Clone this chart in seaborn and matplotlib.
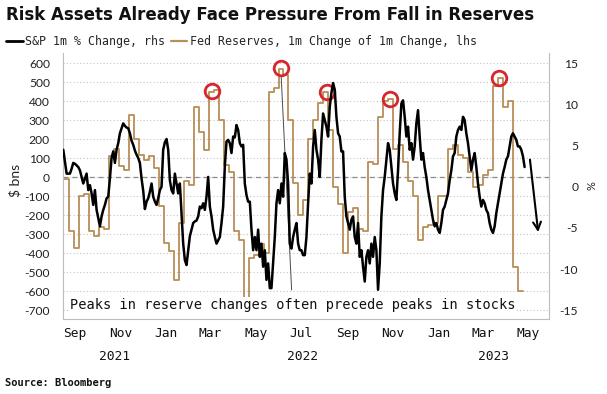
import matplotlib
matplotlib.use("Agg")
import matplotlib.pyplot as plt
import matplotlib.dates as mdates
import matplotlib.transforms as mtransforms
from matplotlib.lines import Line2D
import pandas as pd
import seaborn as sns

# ---------------- data ----------------
TITLE = "Risk Assets Already Face Pressure From Fall in Reserves"
SP_LABEL = "S&P 1m % Change, rhs"
FED_LABEL = "Fed Reserves, 1m Change of 1m Change, lhs"
NOTE = "Peaks in reserve changes often precede peaks in stocks"
SOURCE = "Source: Bloomberg"
LEFT_LABEL = "$ bns"
RIGHT_LABEL = "%"

# Fed reserves, 1m change of 1m change ($ bn), left axis
FED_START = "2021-08-17 19:00"
FED_STEP = "160h"
FED_VALUES = [
    -10, -285, -370, -100, -90, -280, -310, -260, -270, 110,
    150, 60, 40, 330, 200, 120, 90, 110, 50, -150,
    -345, -390, -540, -240, -20, -40, 370, 240, 145, 450,
    460, 300, 65, 30, -280, -330, -640, -425, -410, -350,
    -400, 450, 470, 570, 540, 300, -30, -200, -120, 200,
    300, 390, 450, 250, -50, -140, -400, -180, -160, -270,
    -280, 80, 70, 320, 400, 410, 150, 170, 80, -20,
    -100, -330, -260, -250, -240, -100, -100, 150, 170, 120,
    100, 30, -50, -40, 10, 40, 480, 520, 370, 400,
    -470, -600, -600,
]

# S&P 500 1m % change, right axis
SP_START = "2021-08-16 09:00"
SP_STEP = "3210min"
SP_VALUES = [
    4.5, 3.0, 1.6, 1.6, 1.6, 2.2, 2.9, 2.8, 2.6, 2.4,
    2.0, 1.2, 0.4, 1.0, 1.6, -0.4, 0.2, -0.8, -2.2, -0.4,
    -2.8, -3.8, -4.8, -3.6, -2.8, -2.2, -1.4, -1.2, 1.0, 3.5,
    4.3, 2.9, 4.5, 5.3, 6.5, 7.1, 7.7, 7.4, 7.2, 7.1,
    6.5, 5.6, 5.1, 4.4, 3.9, 3.5, 2.9, 1.0, -0.5, -2.7,
    -1.8, -1.4, -0.6, 0.4, -1.2, -1.8, -2.2, -1.4, -0.4, 0.0,
    4.5, 5.4, 5.8, 4.5, 0.8, -0.4, -0.8, 1.6, 0.4, -0.8,
    0.4, -3.2, -6.9, -8.9, -9.5, -7.7, -6.0, -5.2, -4.4, -4.2,
    -4.1, -3.6, -2.4, -2.6, -2.0, -2.8, -1.2, 1.2, -2.4, -3.6,
    -5.2, -6.1, -6.9, -6.5, -6.1, -4.4, -2.4, 2.5, 5.5, 5.7,
    5.3, 4.1, 6.1, 6.0, 7.5, 6.9, 5.3, 4.9, 5.1, 0.4,
    -1.0, -1.8, -1.8, -5.2, -7.7, -6.1, -7.7, -5.2, -8.5, -6.9,
    -9.7, -7.7, -11.3, -9.3, -12.3, -12.3, -9.3, -6.1, -2.0, -0.4,
    -2.0, 0.4, -1.2, 4.1, 3.3, 0.4, -6.9, -7.5, -6.1, -5.2,
    -4.4, -6.9, -7.7, -7.7, -8.3, -8.3, -6.1, -2.0, 1.6, 0.4,
    4.9, 6.9, 4.5, 3.3, 1.2, 5.7, 8.9, 8.1, 7.3, 6.1,
    9.7, 11.4, 12.6, 11.8, 8.5, 6.5, 6.1, 4.3, 4.3, -1.2,
    -3.6, -4.4, -5.2, -4.0, -3.6, -6.1, -6.9, -4.4, -8.5, -7.7,
    -9.7, -11.5, -8.5, -7.7, -9.3, -6.9, -8.5, -6.1, -7.7, -12.5,
    -9.3, -3.6, -0.4, 1.2, 3.3, 5.3, 4.5, 2.4, 0.4, -0.8,
    -1.6, 2.0, 6.5, 10.1, 10.5, 8.5, 6.1, 7.3, 4.5, 5.3,
    3.3, 4.9, 7.7, 9.3, 6.1, 3.3, 4.1, 2.4, 1.2, -0.4,
    -1.6, -2.8, -4.0, -4.8, -4.4, -5.2, -5.6, -4.4, -2.8, -2.4,
    -1.6, -0.8, 0.8, 2.0, 3.7, 4.1, 6.1, 6.9, 7.3, 6.9,
    8.5, 8.1, 6.5, 5.3, 3.7, 2.0, 3.3, 4.1, 2.4, 0.4,
    -1.2, -2.4, -1.6, -2.0, -2.8, -3.2, -4.4, -5.2, -5.6, -4.8,
    -3.2, -2.0, -0.8, 0.4, 1.6, 2.4, 3.3, 3.7, 4.9, 6.1,
    6.5, 6.1, 5.7, 4.9, 4.9, 4.5, 3.7, 2.4,
]

# circled reserve peaks (left axis units)
PEAK_DATES = ["2022-03-03", "2022-06-04", "2022-08-04", "2022-10-28", "2023-03-23"]
PEAK_VALUES = [456, 575, 450, 412, 521]

# thin guide line (left axis units)
GUIDE_DATES = ["2022-06-04", "2022-06-18"]
GUIDE_VALUES = [533, -593]

# arrow (right axis units)
ARROW_DATES = ["2023-05-03", "2023-05-14"]
ARROW_VALUES = [3.3, -5.5]

XLIM = ["2021-08-16", "2023-05-28 12:00"]
YEAR_LABELS = ["2021", "2022", "2023"]
YEAR_DATES = ["2021-10-24", "2022-07-02", "2023-03-15"]
LEFT_TICKS = list(range(-700, 601, 100))
RIGHT_TICKS = list(range(-15, 16, 5))
LEFT_LIM = (-743, 652.6)
RIGHT_LIM = (-15.99, 16.21)

# ---------------- style ----------------
GOLD = "#b98e58"
RED = "#d7262e"
AXC = "#bdbdbd"
MONO = "DejaVu Sans Mono"

sns.set_style("white")
plt.rcParams["font.family"] = ["Lato", "DejaVu Sans"]
plt.rcParams["axes.unicode_minus"] = False

fed_df = pd.DataFrame({"date": pd.date_range(FED_START, periods=len(FED_VALUES), freq=FED_STEP),
                       "value": FED_VALUES})
sp_df = pd.DataFrame({"date": pd.date_range(SP_START, periods=len(SP_VALUES), freq=SP_STEP),
                      "value": SP_VALUES})

W, H = 607, 394
fig = plt.figure(figsize=(W / 100, H / 100), dpi=100)
L, R, T, B = 63, 549, 53.3, 318.5
ax = fig.add_axes([L / W, 1 - B / H, (R - L) / W, (B - T) / H])
ax2 = ax.twinx()

# grid & zero line
ax.set_ylim(*LEFT_LIM)
ax.set_yticks(LEFT_TICKS)
ax.set_yticklabels([str(v) for v in LEFT_TICKS])
ax.grid(axis="y", linestyle=(0, (1, 2)), color="#c4c4c4", linewidth=0.8)
ax.grid(axis="x", visible=False)
ax.axhline(0, linestyle=(0, (4, 3)), color="#8c8c8c", linewidth=0.9, zorder=1)

# series
sns.lineplot(data=fed_df, x="date", y="value", ax=ax, color=GOLD, linewidth=1.3,
             drawstyle="steps-post", estimator=None, legend=False, zorder=2)
ax.plot(pd.to_datetime(GUIDE_DATES), GUIDE_VALUES, color="#4a4a4a", linewidth=0.7, zorder=3)
ax.plot(pd.to_datetime(PEAK_DATES), PEAK_VALUES, linestyle="none", marker="o", markersize=10.5,
        markerfacecolor="none", markeredgecolor=RED, markeredgewidth=2.0, zorder=4)

sns.lineplot(data=sp_df, x="date", y="value", ax=ax2, color="black", linewidth=1.8,
             estimator=None, legend=False)
ax2.set_ylim(*RIGHT_LIM)
ax2.set_yticks(RIGHT_TICKS)
ax2.set_yticklabels([str(v) for v in RIGHT_TICKS])

ad = mdates.date2num(pd.to_datetime(ARROW_DATES))
ax2.annotate("", xy=(ad[1], ARROW_VALUES[1]), xytext=(ad[0], ARROW_VALUES[0]),
             arrowprops=dict(arrowstyle="->", color="black", lw=1.5, mutation_scale=14,
                             shrinkA=0, shrinkB=0))

ax2.text((70 - L) / (R - L), (B - 305) / (B - T), NOTE, transform=ax2.transAxes,
         ha="left", va="center", fontsize=9.8, family=MONO, color="#111111",
         bbox=dict(facecolor="white", edgecolor="none", pad=1.0), zorder=10)

# x axis
ax.set_xlim(pd.Timestamp(XLIM[0]), pd.Timestamp(XLIM[1]))
ax.xaxis.set_major_locator(mdates.MonthLocator(bymonth=[1, 3, 5, 7, 9, 11]))
ax.xaxis.set_major_formatter(mdates.DateFormatter("%b"))
ax.xaxis.set_minor_locator(mdates.MonthLocator(bymonth=[1]))
ax.xaxis.remove_overlapping_locs = False
ax.tick_params(axis="x", which="major", length=3.2, width=0.8, color=AXC, pad=3,
               labelsize=9.3, labelfontfamily=MONO, labelcolor="#111111")
ax.tick_params(axis="x", which="minor", length=5.5, width=0.8, color=AXC)
ax.set_xlabel("")
blend = mtransforms.blended_transform_factory(ax.transData, ax.transAxes)
for lab, d in zip(YEAR_LABELS, YEAR_DATES):
    ax.text(mdates.date2num(pd.Timestamp(d)), (B - 356) / (B - T), lab, transform=blend,
            ha="center", va="center", fontsize=9.3, family=MONO, color="#111111")

# y axes
ax.tick_params(axis="y", length=0, pad=9.4, labelsize=8.7, labelcolor="#222222")
ax.set_ylabel("")
ax2.tick_params(axis="y", length=0, pad=21, labelsize=8.7, labelcolor="#222222")
for t in ax2.get_yticklabels():
    t.set_horizontalalignment("right")
ax2.set_ylabel("")

for sp in ["top", "right"]:
    ax.spines[sp].set_visible(False)
for sp in ["left", "bottom"]:
    ax.spines[sp].set_color(AXC)
    ax.spines[sp].set_linewidth(0.8)
for sp in ["top", "left", "bottom"]:
    ax2.spines[sp].set_visible(False)
ax2.spines["right"].set_color(AXC)
ax2.spines["right"].set_linewidth(0.8)

fig.text(15 / W, 1 - 180 / H, LEFT_LABEL, rotation=90, ha="center", va="center",
         fontsize=10, color="#222222")
fig.text(592 / W, 1 - 186 / H, RIGHT_LABEL, rotation=90, ha="center", va="center",
         fontsize=8, color="#222222")

# title, legend, source
fig.text(6 / W, 1 - 15.5 / H, TITLE, ha="left", va="center", fontsize=12,
         fontweight="bold", family="DejaVu Sans", color="#111111")
handles = [Line2D([], [], color="black", lw=2.0), Line2D([], [], color=GOLD, lw=1.6)]
fig.legend(handles, [SP_LABEL, FED_LABEL], loc="center left", bbox_to_anchor=(6 / W, 1 - 41.5 / H),
           ncol=2, frameon=False, handlelength=1.45, handletextpad=0.2, columnspacing=0.45,
           borderaxespad=0, borderpad=0, prop={"family": MONO, "size": 8.4})
fig.text(5 / W, 1 - 383 / H, SOURCE, ha="left", va="center", fontsize=7.5, family=MONO,
         fontweight="bold", color="#111111")

fig.savefig("out.png", dpi=100, facecolor="white")
